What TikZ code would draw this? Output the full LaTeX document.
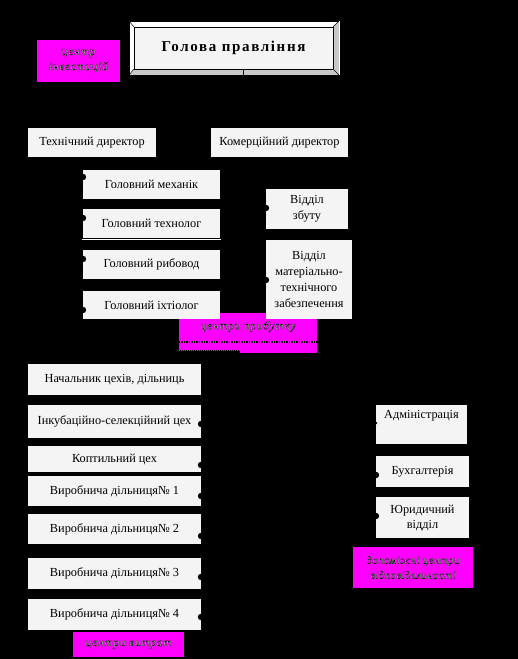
\documentclass[tikz,border=0pt]{standalone}
\usepackage{fontspec}
\setmainfont{Liberation Serif}
\definecolor{boxfill}{HTML}{F4F4F4}
\definecolor{mag}{HTML}{FF00FF}
\definecolor{bevel}{HTML}{C8C8C8}
\newcommand\outlinetext[1]{\special{pdf:literal direct q 2 Tr 0.22 w 0 0 0 RG}#1\special{pdf:literal direct Q}}
\begin{document}
\begin{tikzpicture}[x=1pt,y=-1pt,
  box/.style={fill=boxfill, inner sep=0pt, align=center, font=\fontsize{12.3}{16}\selectfont},
  magbox/.style={fill=mag, inner sep=0pt},
  magtext/.style={inner sep=0pt, align=center, text=white!92!black, font=\fontsize{11.5}{15}\selectfont\itshape\addfontfeature{LetterSpace=6}},
  notch/.style={fill=black}]
\fill[black] (0,0) rectangle (518,659);
\useasboundingbox (0,0) rectangle (518,659);

% head
\fill[white] (129,21) rectangle (339,75);
\fill[bevel] (129,75) -- (134,69) -- (333,69) -- (339,75) -- cycle;
\fill[bevel] (339,21) -- (333,27) -- (333,69) -- (339,75) -- cycle;
\draw[black, line width=0.5] (129,21) -- (134,27) (339,21) -- (333,27) (129,75) -- (134,69) (339,75) -- (333,69);
\draw[black, line width=0.6] (129,21) rectangle (339,75);
\draw[white, line width=0.8] (339,21) -- (339,75);
\node[draw=black, line width=0.8, fill=boxfill, minimum width=199pt, minimum height=42pt, inner sep=0pt,
  font=\fontsize{15}{17}\selectfont\bfseries\addfontfeature{LetterSpace=11}] (head) at (233.5,48) {Голова правління};
\draw[black, line width=0.6] (243,69) -- (243,75);

% investment centre
\node[magbox, minimum width=83pt, minimum height=42pt] (inv) at (78.5,61) {};
\node[magtext] (invt) at (inv.center) {\outlinetext{центр}\\\outlinetext{інвестицій}};

% directors
\node[box, minimum width=128pt, minimum height=29pt] (tech) at (92,142.5) {Технічний директор};
\node[box, minimum width=137pt, minimum height=29pt] (kom) at (279.5,142.5) {Комерційний директор};

% profit centre background
\node[magbox, minimum width=138pt, minimum height=40pt] (prib) at (248,333) {};
\node[magtext] (pribt) at (248,326.5) {\outlinetext{центри прибутку}};
\draw[black, line width=1.3, dash pattern=on 1.5pt off 1pt] (prib.west |- 0,342) -- (prib.east |- 0,342);
\fill[black] (179,349.5) rectangle (240,354);
\draw[mag, line width=0.8, dash pattern=on 1pt off 1pt] (179,350) -- (240,350);

% technical subordinates
\node[box, minimum width=137pt, minimum height=29pt] (mech) at (151.5,184.5) {Головний механік};
\node[box, minimum width=137pt, minimum height=29pt] (techn) at (151.5,223.5) {Головний технолог};
\draw[white, line width=0.8] (82,239.5) -- (221,239.5);
\node[box, minimum width=137pt, minimum height=29pt] (rib) at (151.5,264.5) {Головний рибовод};
\node[box, minimum width=137pt, minimum height=28pt] (ikht) at (151.5,305) {Головний іхтіолог};

% commercial subordinates
\node[box, minimum width=82pt, minimum height=40pt] (zbut) at (307,209) {Відділ\\збуту};
\node[box, minimum width=86pt, minimum height=79pt] (mts) at (309,279.5) {Відділ\\матеріально-\\технічного\\забезпечення};

% workshops
\node[box, minimum width=173pt, minimum height=31pt] (nach) at (114.5,379.5) {Начальник цехів, дільниць};
\node[box, minimum width=173pt, minimum height=33pt] (inc) at (114.5,421.5) {Інкубаційно-селекційний цех};
\node[box, minimum width=173pt, minimum height=26pt] (kopt) at (114.5,459) {Коптильний цех};
\node[box, minimum width=173pt, minimum height=30pt] (d1) at (114.5,491) {Виробнича дільниця№ 1};
\node[box, minimum width=173pt, minimum height=30pt] (d2) at (114.5,529) {Виробнича дільниця№ 2};
\node[box, minimum width=173pt, minimum height=31pt] (d3) at (114.5,573.5) {Виробнича дільниця№ 3};
\node[box, minimum width=173pt, minimum height=31pt] (d4) at (114.5,614.5) {Виробнича дільниця№ 4};

% cost centre
\node[magbox, minimum width=111pt, minimum height=25pt] (vytr) at (128.5,644.5) {};
\node[magtext] (vytrt) at (vytr.center) {\outlinetext{центри витрат}};
\draw[black, line width=0.8, dash pattern=on 1pt off 1pt] (vytr.south west) -- (vytr.south east);

% right column
\node[box, minimum width=91pt, minimum height=39pt] (adm) at (421.5,424.5) {};
\node[inner sep=0pt, font=\fontsize{12.3}{16}\selectfont] (admt) at (421.5,416) {Адміністрація};
\node[box, minimum width=93pt, minimum height=31pt] (buh) at (422.5,471.5) {Бухгалтерія};
\node[box, minimum width=93pt, minimum height=41pt, font=\fontsize{12.3}{15}\selectfont] (yur) at (422.5,517.5) {Юридичний\\відділ};
\node[magbox, minimum width=120pt, minimum height=41pt] (dop) at (413,567.5) {};
\node[magtext, font=\fontsize{11}{15}\selectfont\itshape\addfontfeature{LetterSpace=3}] (dopt) at (dop.center) {\outlinetext{допоміжні центри}\\\outlinetext{відповідальності}};

% connector stubs (notches)
\foreach \p in {(83,177),(83,218),(83,259),(83,310),(266,208),(266,280),
  (201,424),(201,465),(201,496),(201,536),(201,577),(201,617),(376,475),(376,516)}
  \fill[notch] \p circle (3.2);
\fill[notch] (376,423) circle (1.3);
\end{tikzpicture}
\end{document}
